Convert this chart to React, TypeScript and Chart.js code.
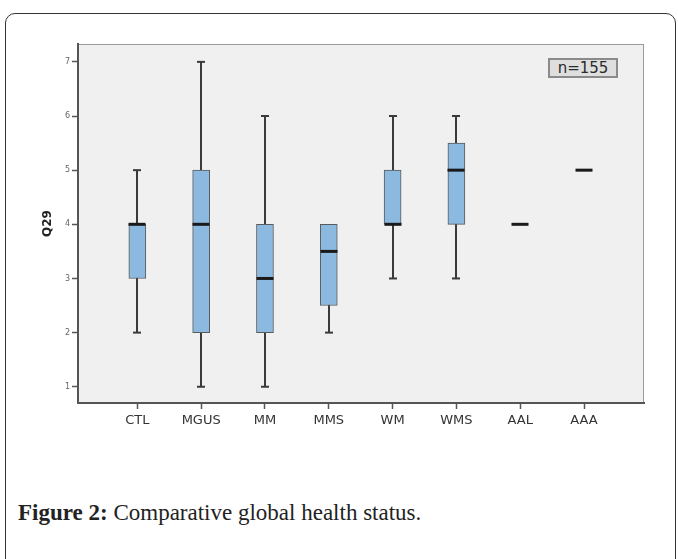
import { useEffect, useRef } from "react";
import { Chart, registerables } from "chart.js";
Chart.register(...registerables);

const categories = ["CTL", "MGUS", "MM", "MMS", "WM", "WMS", "AAL", "AAA"];
const whiskerLow = [2, 1, 1, 2, 3, 3, 4, 5];
const quartile1 = [3, 2, 2, 2.5, 4, 4, 4, 5];
const medians = [4, 4, 3, 3.5, 4, 5, 4, 5];
const quartile3 = [4, 5, 4, 4, 5, 5.5, 4, 5];
const whiskerHigh = [5, 7, 6, 4, 6, 6, 4, 5];
const yTicks = [1, 2, 3, 4, 5, 6, 7];
const sampleLabel = "n=155";
const yTitle = "Q29";

const BOX_W = 17;
const CAP_W = 8;

const plotBg = {
  id: "plotBg",
  beforeDraw(chart: any) {
    const { ctx, chartArea: a } = chart;
    ctx.save();
    ctx.fillStyle = "#f0f0f0";
    ctx.fillRect(a.left, a.top, a.right - a.left, a.bottom - a.top);
    ctx.strokeStyle = "#9a9a9a";
    ctx.lineWidth = 1;
    ctx.strokeRect(a.left + 0.5, a.top + 0.5, a.right - a.left - 1, a.bottom - a.top - 1);
    ctx.restore();
  },
};

const whiskers = {
  id: "whiskers",
  beforeDatasetsDraw(chart: any) {
    const { ctx } = chart;
    const xs = chart.scales.x;
    const ys = chart.scales.y;
    ctx.save();
    ctx.strokeStyle = "#3a3a3a";
    ctx.lineWidth = 2;
    categories.forEach((_, i) => {
      if (whiskerLow[i] === whiskerHigh[i]) return;
      const x = Math.round(xs.getPixelForValue(i));
      const yl = ys.getPixelForValue(whiskerLow[i]);
      const yh = ys.getPixelForValue(whiskerHigh[i]);
      ctx.beginPath();
      ctx.moveTo(x, yl);
      ctx.lineTo(x, yh);
      ctx.stroke();
      if (whiskerLow[i] < quartile1[i]) {
        ctx.beginPath();
        ctx.moveTo(x - CAP_W / 2, yl);
        ctx.lineTo(x + CAP_W / 2, yl);
        ctx.stroke();
      }
      if (whiskerHigh[i] > quartile3[i]) {
        ctx.beginPath();
        ctx.moveTo(x - CAP_W / 2, yh);
        ctx.lineTo(x + CAP_W / 2, yh);
        ctx.stroke();
      }
    });
    ctx.restore();
  },
  afterDatasetsDraw(chart: any) {
    const { ctx } = chart;
    const xs = chart.scales.x;
    const ys = chart.scales.y;
    ctx.save();
    ctx.strokeStyle = "#1a1a1a";
    ctx.lineWidth = 3;
    categories.forEach((_, i) => {
      const x = Math.round(xs.getPixelForValue(i));
      const y = ys.getPixelForValue(medians[i]);
      ctx.beginPath();
      ctx.moveTo(x - BOX_W / 2, y);
      ctx.lineTo(x + BOX_W / 2, y);
      ctx.stroke();
    });
    ctx.restore();
  },
};

function BoxChart() {
  const ref = useRef<HTMLCanvasElement | null>(null);
  useEffect(() => {
    if (!ref.current) return;
    const boxData = categories
      .map((_, i) => ({ x: i, y: [quartile1[i], quartile3[i]] }))
      .filter((d) => d.y[0] !== d.y[1]);
    const chart = new Chart(ref.current, {
      type: "bar",
      data: {
        datasets: [
          {
            data: boxData as any,
            backgroundColor: "#8cb9e0",
            borderColor: "#5a5a5a",
            borderWidth: 1,
            borderSkipped: false,
            barThickness: BOX_W,
          },
        ],
      },
      options: {
        responsive: false,
        animation: false,
        layout: { padding: { top: 44, right: 34, bottom: 7, left: 0 } },
        plugins: { legend: { display: false }, tooltip: { enabled: false } },
        scales: {
          x: {
            type: "linear",
            offset: false,
            min: -0.93,
            max: 7.94,
            afterBuildTicks(scale: any) {
              scale.ticks = categories.map((_, i) => ({ value: i }));
            },
            afterFit(scale: any) {
              scale.height = 30;
            },
            ticks: {
              callback: (v: any) => categories[v as number] ?? "",
              font: { family: "DejaVu Sans", size: 13 },
              color: "#333",
              padding: 4,
              maxRotation: 0,
              autoSkip: false,
            },
            grid: { offset: false, drawOnChartArea: false, tickLength: 6, color: "#555", tickWidth: 1.5 },
            border: { display: true, color: "#555", width: 2 },
          },
          y: {
            type: "linear",
            min: 0.7,
            max: 7.33,
            afterBuildTicks(scale: any) {
              scale.ticks = yTicks.map((v) => ({ value: v }));
            },
            afterFit(scale: any) {
              scale.width = 78;
            },
            ticks: {
              font: { family: "DejaVu Sans", size: 8 },
              color: "#666",
              padding: 2,
            },
            grid: { drawOnChartArea: false, tickLength: 6, color: "#555", tickWidth: 1.5 },
            border: { display: true, color: "#555", width: 2 },
            title: {
              display: true,
              text: yTitle,
              font: { family: "DejaVu Sans", size: 12, weight: "bold" },
              color: "#222",
              padding: { top: 41, bottom: 0 },
            },
          },
        },
      },
      plugins: [plotBg, whiskers],
    });
    return () => chart.destroy();
  }, []);
  return (
    <canvas
      ref={ref}
      width={678}
      height={440}
      style={{ position: "absolute", left: 0, top: 0, width: 678, height: 440 }}
    />
  );
}

export default function App() {
  return (
    <div
      style={{
        position: "fixed",
        left: 0,
        top: 0,
        width: 678,
        height: 559,
        overflow: "hidden",
        background: "#fff",
      }}
    >
      <div
        style={{
          position: "absolute",
          left: 5,
          top: 13,
          width: 671,
          height: 700,
          border: "1.5px solid #333",
          borderRadius: 10,
          boxSizing: "border-box",
        }}
      />
      <BoxChart />
      <div
        style={{
          position: "absolute",
          left: 548,
          top: 58,
          width: 70,
          height: 20,
          boxSizing: "border-box",
          border: "2px solid #8a8a8a",
          background: "#dedede",
          color: "#2a2a2a",
          fontFamily: "DejaVu Sans",
          fontSize: 15,
          lineHeight: "16px",
          textAlign: "center",
        }}
      >
        {sampleLabel}
      </div>
      <div
        style={{
          position: "absolute",
          left: 18,
          top: 500,
          fontFamily: "Liberation Serif",
          fontSize: 23,
          color: "#222",
          whiteSpace: "nowrap",
        }}
      >
        <b>Figure 2:</b> Comparative global health status.
      </div>
    </div>
  );
}
